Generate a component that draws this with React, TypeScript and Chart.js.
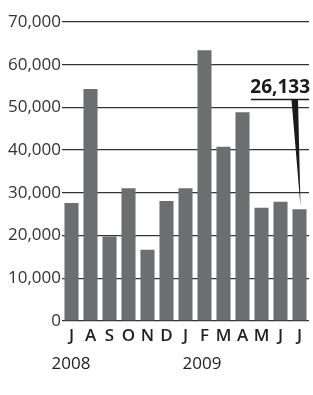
import React, { useEffect, useRef } from "react";
import { Chart, registerables } from "chart.js";

Chart.register(...registerables);

const months = ["J", "A", "S", "O", "N", "D", "J", "F", "M", "A", "M", "J", "J"];
const values = [27600, 54300, 19800, 31100, 16700, 28100, 31100, 63400, 40800, 48900, 26500, 27900, 26133];
const years = ["2008", "2009"];
const calloutLabel = "26,133";

const FONT = "'Open Sans', 'DejaVu Sans', sans-serif";

const overlay = {
  id: "overlay",
  afterDraw(chart: any) {
    const ctx = chart.ctx;
    const meta = chart.getDatasetMeta(0);
    const els = meta.data;
    ctx.save();
    // year labels
    ctx.fillStyle = "#222";
    ctx.font = `17px ${FONT}`;
    ctx.textBaseline = "alphabetic";
    ctx.textAlign = "left";
    ctx.fillText(years[0], els[0].x - 20, 369);
    ctx.fillText(years[1], els[6].x - 3, 369);

    // callout
    const last = els[els.length - 1];
    ctx.font = `bold 19px ${FONT}`;
    ctx.textAlign = "right";
    ctx.fillStyle = "#1a1a1a";
    ctx.fillText(calloutLabel, 310, 93);
    ctx.strokeStyle = "#1a1a1a";
    ctx.lineWidth = 1.6;
    ctx.beginPath();
    ctx.moveTo(251, 99.5);
    ctx.lineTo(309, 99.5);
    ctx.stroke();
    ctx.beginPath();
    ctx.moveTo(291.5, 100);
    ctx.lineTo(298, 100);
    ctx.lineTo(last.x + 1, last.y - 3);
    ctx.closePath();
    ctx.fill();
    ctx.restore();
  },
};

export default function App() {
  const ref = useRef<HTMLCanvasElement>(null);
  useEffect(() => {
    if (!ref.current) return;
    const chart = new Chart(ref.current, {
      type: "bar",
      data: {
        labels: months,
        datasets: [
          {
            data: values,
            backgroundColor: "#6d6e70",
            barPercentage: 0.74,
            categoryPercentage: 1,
          },
        ],
      },
      options: {
        animation: false,
        responsive: false,
        devicePixelRatio: 1,
        layout: { padding: { top: 22, right: 4, left: 0, bottom: 0 } },
        plugins: { legend: { display: false }, tooltip: { enabled: false } },
        scales: {
          x: {
            grid: { display: false, drawTicks: false },
            border: { display: false },
            ticks: {
              color: "#222",
              font: { family: FONT, size: 17, weight: "600" },
              padding: 5,
              maxRotation: 0,
              autoSkip: false,
            },
            afterFit(scale: any) {
              scale.height = 74;
            },
          },
          y: {
            min: 0,
            max: 70000,
            grid: { color: "#333", lineWidth: 1.3, drawTicks: false },
            border: { display: false },
            ticks: {
              stepSize: 10000,
              color: "#333",
              font: { family: FONT, size: 17 },
              padding: 1,
              callback: (v: any) => Number(v).toLocaleString("en-US"),
            },
            afterFit(scale: any) {
              scale.width = 62;
            },
          },
        },
      },
      plugins: [overlay],
    });
    return () => chart.destroy();
  }, []);
  return (
    <div style={{ position: "fixed", left: 0, top: 0, width: 313, height: 395, background: "#fff" }}>
      <canvas ref={ref} width={313} height={395} style={{ width: 313, height: 395 }} />
    </div>
  );
}
